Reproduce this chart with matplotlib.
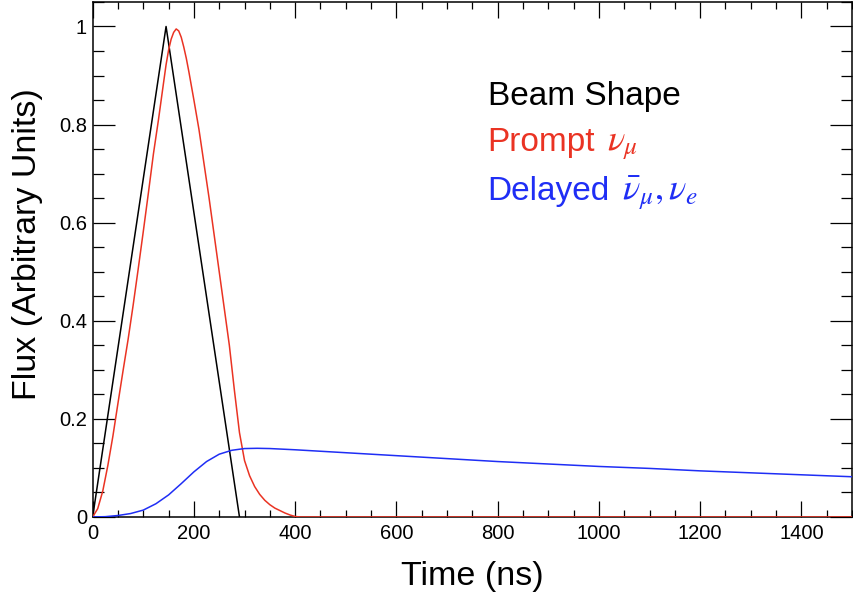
import matplotlib
matplotlib.use("Agg")
import matplotlib.pyplot as plt
from matplotlib.ticker import MultipleLocator, FuncFormatter

plt.rcParams["font.family"] = ["Liberation Sans", "DejaVu Sans"]
plt.rcParams["mathtext.fontset"] = "stix"

# ---------------------------------------------------------------------------
# Data
# ---------------------------------------------------------------------------
beam_t = [0, 145, 290]
beam_flux = [0.0, 1.0, 0.0]

prompt_t = [0, 10, 20, 30, 40, 50, 60, 70, 80, 90, 100, 110, 120, 130, 140,
            145, 150, 155, 160, 165, 170, 175, 180, 185, 190, 200, 210, 220,
            230, 240, 250, 260, 270, 280, 290, 300, 310, 320, 330, 340, 350,
            360, 370, 380, 390, 400, 410, 1500]
prompt_flux = [0.0, 0.017, 0.053, 0.105, 0.165, 0.232, 0.298, 0.362, 0.432,
               0.506, 0.582, 0.66, 0.74, 0.81, 0.885, 0.922, 0.952, 0.974,
               0.988, 0.995, 0.991, 0.978, 0.958, 0.935, 0.908, 0.85, 0.79,
               0.72, 0.65, 0.575, 0.50, 0.425, 0.35, 0.258, 0.172, 0.115,
               0.084, 0.062, 0.046, 0.034, 0.025, 0.018, 0.013, 0.008, 0.004,
               0.001, 0.0, 0.0]

delayed_t = [0, 25, 50, 75, 100, 125, 150, 175, 200, 225, 250, 275, 300, 325,
             350, 400, 500, 600, 700, 800, 900, 1000, 1100, 1200, 1300, 1400,
             1500]
delayed_flux = [0.0, 0.0006, 0.003, 0.007, 0.014, 0.027, 0.045, 0.068,
                0.092, 0.113, 0.128, 0.136, 0.1395, 0.140, 0.1395, 0.137,
                0.131, 0.125, 0.119, 0.113, 0.108, 0.103, 0.099, 0.094,
                0.090, 0.086, 0.082]

label_text = ["Beam Shape", "Prompt", "Delayed"]
label_math = ["", r"$\nu_{\mu}$", r"$\bar{\nu}_{\mu}, \nu_{e}$"]

RED = "#ea3323"
BLUE = "#1f2ef5"


def fmt_y(v, _pos):
    s = f"{v:.1f}"
    if s.endswith(".0"):
        s = s[:-2]
    return s


fig = plt.figure(figsize=(8.54, 5.98), dpi=100)
ax = fig.add_axes([0.1085, 0.1355, 0.8892, 0.8612])

ax.plot(beam_t, beam_flux, color="black", lw=1.1, zorder=3)
ax.plot(prompt_t, prompt_flux, color=RED, lw=1.1, zorder=3)
ax.plot(delayed_t, delayed_flux, color=BLUE, lw=1.1, zorder=3)

ax.set_xlim(0, 1500)
ax.set_ylim(0, 1.05)

ax.xaxis.set_major_locator(MultipleLocator(200))
ax.xaxis.set_minor_locator(MultipleLocator(50))
ax.yaxis.set_major_locator(MultipleLocator(0.2))
ax.yaxis.set_minor_locator(MultipleLocator(0.05))
ax.yaxis.set_major_formatter(FuncFormatter(fmt_y))

ax.tick_params(axis="both", which="both", direction="in", top=True,
               right=True, color="black", width=0.9)
ax.tick_params(axis="x", which="major", length=11.3, labelsize=14.5, pad=5)
ax.tick_params(axis="x", which="minor", length=5.3)
ax.tick_params(axis="y", which="major", length=15.6, labelsize=14.5, pad=4)
ax.tick_params(axis="y", which="minor", length=7.9)

for sp in ax.spines.values():
    sp.set_linewidth(1.1)

ax.set_xlabel("Time (ns)", fontsize=24.5, labelpad=13)
ax.set_ylabel("Flux (Arbitrary Units)", fontsize=24.5)
ax.yaxis.set_label_coords(-0.066, 0.53)

# legend-like labels: sans text followed by larger serif math
colors = ["black", RED, BLUE]
ypos = [0.839, 0.747, 0.646]
fig.canvas.draw()
renderer = fig.canvas.get_renderer()
for txt, mth, c, y in zip(label_text, label_math, colors, ypos):
    t = ax.text(780, y, txt, color=c, fontsize=24, ha="left", va="baseline")
    if mth:
        bb = t.get_window_extent(renderer=renderer)
        x_end = ax.transData.inverted().transform((bb.x1 + 12, 0))[0]
        ax.text(x_end, y, mth, color=c, fontsize=26, ha="left", va="baseline")

fig.savefig("out.png", dpi=100)
